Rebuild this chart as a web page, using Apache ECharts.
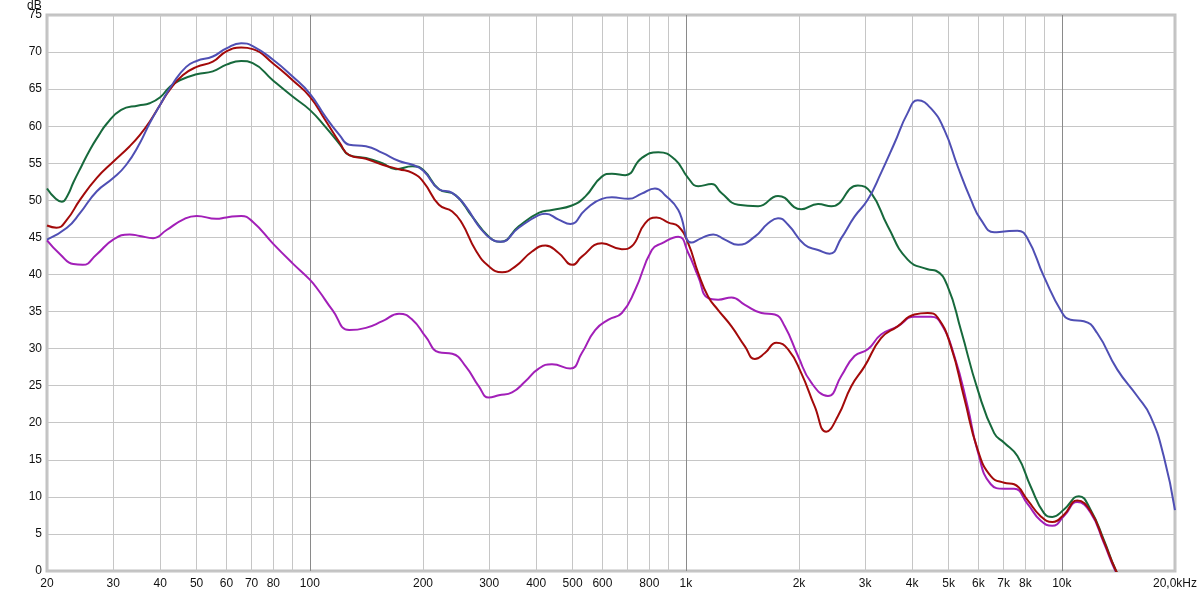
<!DOCTYPE html>
<html>
<head>
<meta charset="utf-8">
<script src="https://cdn.jsdelivr.net/npm/echarts@6/dist/echarts.min.js"></script>
<style>html,body{margin:0;padding:0;background:#fff;}#c{width:1200px;height:593px;}</style>
</head>
<body>
<div id="c"></div>
<script>
// Grid frequencies (Hz) and labelled frequencies
const gridFreqs = [20,30,40,50,60,70,80,90,100,200,300,400,500,600,700,800,900,1000,2000,3000,4000,5000,6000,7000,8000,9000,10000,20000];
const labelFreqs = [20,30,40,50,60,70,80,100,200,300,400,500,600,800,1000,2000,3000,4000,5000,6000,7000,8000,10000,20000];

// Series: [frequency Hz, level dB]
const greenData = [[20,51.6],[21.1,50.2],[21.9,49.8],[22.7,50.7],[23.5,52.4],[24.7,54.6],[26,56.8],[27.4,58.7],[28.8,60.3],[31.5,62.2],[35,62.8],[37.5,63.1],[40,63.9],[42.4,65.3],[45.1,66.2],[50,67.0],[55.2,67.4],[60,68.3],[65.7,68.8],[70.5,68.5],[79.7,66.2],[90,64.0],[100,62.2],[110,59.9],[120,57.6],[127.3,56.1],[141,55.7],[156,55.0],[169.3,54.2],[187.4,54.6],[200.4,54.1],[220.5,51.5],[244,50.7],[270.4,47.8],[299.3,45.1],[321.5,44.4],[359.5,46.5],[406.3,48.3],[440.6,48.7],[497.8,49.3],[540,50.5],[598,53.2],[636,53.6],[690,53.4],[763,55.7],[845,56.5],[936,55.5],[1015,53.0],[1079,51.9],[1171,52.2],[1244,51.0],[1378,49.4],[1557,49.2],[1759,50.6],[2028,48.8],[2247,49.5],[2437,49.2],[2868,52.0],[3111,51.0],[3445,46.5],[3892,42.0],[4398,40.7],[4627,40.5],[4970,38.4],[5391,32.5],[5971,24.5],[6609,18.6],[7026,17.3],[7620,15.5],[8264,11.4],[8966,7.8],[9436,7.3],[10131,8.3],[11104,10.1],[11917,8.3],[12937,4.2],[13889,0.2],[15000,-3]];

const redData = [[20,46.6],[21.2,46.3],[22.6,47.4],[24.5,50.1],[27.1,53.0],[30,55.2],[33.2,57.3],[35.3,58.8],[37.5,60.6],[40,62.9],[42.4,64.9],[46,66.9],[50,68.0],[55.2,68.7],[60,70.1],[65.7,70.6],[70.5,70.4],[79.7,68.5],[90,66.2],[100,64.0],[110,60.8],[120,57.8],[127.3,56.1],[141,55.6],[156,54.8],[172.7,54.2],[187.4,53.7],[200.4,52.5],[220.5,49.4],[239.2,48.5],[254,46.9],[275.9,43.3],[299.3,41.1],[324.6,40.3],[352.4,41.1],[390,43.1],[423.3,43.9],[459,42.9],[500,41.3],[529,42.4],[598,44.2],[676,43.4],[718,43.8],[779,46.9],[836,47.7],[899,47.0],[955,46.5],[1015,44.2],[1079,40.2],[1147,37.0],[1219,35.2],[1323,33.0],[1436,30.3],[1526,28.6],[1623,29.4],[1741,30.8],[1871,29.9],[2028,26.7],[2202,22.2],[2363,18.8],[2539,20.9],[2753,24.9],[2988,27.6],[3306,31.4],[3660,33.0],[4055,34.6],[4398,34.8],[4676,34.2],[5071,30.3],[5504,23.3],[5971,16.4],[6474,12.8],[7026,11.9],[7467,11.7],[8099,9.6],[8782,7.4],[9436,6.6],[10131,7.6],[10990,9.5],[11917,8.1],[12937,4.0],[13889,0.2],[15000,-3]];

const blueData = [[20,44.7],[22.6,46.3],[24.5,48.3],[27.1,51.2],[30,53.0],[32.5,54.8],[35.3,57.7],[37.5,60.4],[40,62.9],[43.3,65.8],[46.9,68.0],[50,68.8],[55.2,69.4],[60,70.5],[65.7,71.2],[70.5,70.8],[79.7,69.0],[90,66.7],[100,64.4],[110,61.3],[120,58.8],[127.3,57.5],[141,57.3],[156,56.4],[172.7,55.3],[187.4,54.8],[200.4,54.0],[220.5,51.5],[239.2,51.0],[259.8,49.2],[281.5,46.5],[305.4,44.7],[321.5,44.4],[359.5,46.3],[406.3,48.0],[423.3,48.2],[459,47.4],[493,46.8],[540,48.7],[598,50.2],[636,50.4],[704,50.2],[763,50.9],[828,51.6],[881,50.7],[955,48.7],[1036,44.3],[1101,44.9],[1183,45.4],[1270,44.7],[1378,44.0],[1526,45.1],[1656,46.9],[1759,47.6],[1871,46.7],[2071,44.0],[2247,43.3],[2413,42.8],[2591,44.9],[2810,47.8],[3049,50.1],[3306,53.7],[3588,57.7],[3892,61.8],[4138,63.5],[4488,62.4],[4871,59.5],[5284,54.6],[5731,50.1],[6093,47.4],[6609,45.7],[7026,45.8],[7620,45.9],[8099,44.9],[8966,39.7],[10027,34.8],[10548,33.9],[11447,33.7],[12416,32.1],[14036,27.2],[15862,23.6],[17203,20.9],[18663,15.5],[20000,8.2]];

const magentaData = [[20,44.6],[21.7,42.7],[23.5,41.4],[24.9,41.3],[27.1,42.7],[30,44.7],[33.2,45.4],[35.3,45.2],[38.3,44.9],[41.6,46.0],[46,47.4],[50,47.9],[56.4,47.5],[60,47.7],[65.7,47.9],[70.5,47.1],[79.7,44.2],[90,41.5],[100,39.3],[106,37.7],[114.9,35.2],[127.3,32.5],[141,32.8],[156,33.7],[172.7,34.7],[187.4,33.9],[203.3,31.6],[220.5,29.5],[239.2,29.3],[259.8,27.6],[281.5,24.9],[299.3,23.4],[318.2,23.7],[345.1,24.1],[374.5,25.6],[406.3,27.3],[440.6,27.9],[493,27.3],[529,29.4],[574,32.5],[623,33.9],[676,34.8],[733,37.9],[812,43.3],[863,44.2],[955,45.1],[1015,42.9],[1079,39.7],[1147,36.8],[1219,36.6],[1323,36.9],[1436,35.9],[1589,34.8],[1724,34.6],[1833,33.0],[1988,29.0],[2157,25.4],[2388,23.6],[2591,26.3],[2810,29.0],[3049,29.9],[3306,31.9],[3660,33.0],[4055,34.3],[4488,34.3],[4772,33.4],[5178,29.0],[5617,22.2],[5971,16.2],[6474,11.7],[7026,11.1],[7467,11.1],[8099,9.1],[8782,6.8],[9436,6.1],[10131,7.4],[10990,9.3],[11917,7.9],[12937,3.8],[13889,0.0],[15000,-3]];

const toLog = d => d.map(p => [Math.log10(p[0]), p[1]]);
const light = '#c6c6c6', dark = '#8a8a8a';
// color per grid line: decades darker
const gridColors = gridFreqs.map(f => (Math.abs(Math.log10(f) - Math.round(Math.log10(f))) < 1e-9 && f !== 20) ? dark : light);

const font = 'Liberation Sans, Arial, sans-serif';
const chart = echarts.init(document.getElementById('c'), null, {renderer: 'canvas'});
function fmt(v) {
  const f = Math.round(Math.pow(10, v));
  if (f >= 20000) return '20,0kHz';
  if (f >= 1000) return (f / 1000) + 'k';
  return String(f);
}
const line = (name, data, color, z) => ({
  name, type: 'line', data: toLog(data), showSymbol: false, smooth: 0.5,
  lineStyle: {color, width: 2}, itemStyle: {color}, z, clip: true, animation: false
});
chart.setOption({
  backgroundColor: '#fff',
  animation: false,
  title: {text: 'dB', left: 27, top: 0, padding: 0, textStyle: {color: '#111', fontSize: 12, fontWeight: 'normal', fontFamily: font}},
  grid: {left: 47, right: 22, top: 15, bottom: 22, show: true, borderColor: '#c2c2c2', borderWidth: 3, backgroundColor: '#fff'},
  xAxis: {
    type: 'value', min: Math.log10(20), max: Math.log10(20000),
    axisLine: {show: false},
    axisTick: {show: false, customValues: gridFreqs.map(Math.log10)},
    axisLabel: {customValues: labelFreqs.map(Math.log10), formatter: fmt, color: '#111', fontSize: 12, fontFamily: font, margin: 7},
    splitLine: {show: true, lineStyle: {color: gridColors, width: 1}}
  },
  yAxis: {
    type: 'value', min: 0, max: 75, interval: 5,
    axisLine: {show: false}, axisTick: {show: false},
    axisLabel: {color: '#111', fontSize: 12, fontFamily: font, margin: 5},
    splitLine: {show: true, lineStyle: {color: light, width: 1}}
  },
  series: [
    line('magenta', magentaData, '#a21fb8', 3),
    line('green', greenData, '#17693c', 4),
    line('red', redData, '#a30a0a', 5),
    line('blue', blueData, '#4f4fb4', 6)
  ]
});
</script>
</body>
</html>
